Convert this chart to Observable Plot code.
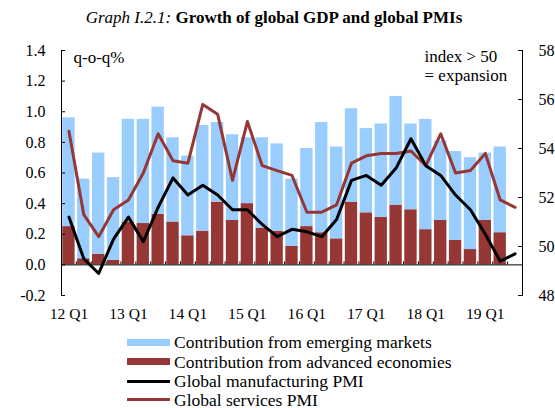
<!DOCTYPE html>
<html><head><meta charset="utf-8">
<script src="https://cdn.jsdelivr.net/npm/d3@7"></script>
<script src="https://cdn.jsdelivr.net/npm/@observablehq/plot@0.6"></script>
<style>
html,body{margin:0;padding:0;background:#fff;font-family:"Liberation Serif","Times New Roman",serif;color:#000;overflow:hidden;}
#wrap{position:relative;width:555px;height:408px;overflow:hidden;}
#title{position:absolute;left:0;top:7px;width:548px;text-align:center;font-size:17px;line-height:22px;white-space:nowrap;}
#chart{position:absolute;left:0;top:36px;width:555px;height:292px;}
#chart svg{max-width:none !important;width:555px !important;height:292px !important;}
.leg{position:absolute;left:127px;height:16px;line-height:16px;display:flex;align-items:center;font-size:17.5px;white-space:nowrap;}
.sw{width:43px;margin-right:4px;flex:none;}
</style></head><body>
<div id="wrap">
<div id="title"><i>Graph I.2.1:</i> <b>Growth of global GDP and global PMIs</b></div>
<div id="chart"></div>
<div id="legend"></div>
</div>
<script>
const quarters = ["12 Q1","12 Q2","12 Q3","12 Q4","13 Q1","13 Q2","13 Q3","13 Q4",
  "14 Q1","14 Q2","14 Q3","14 Q4","15 Q1","15 Q2","15 Q3","15 Q4",
  "16 Q1","16 Q2","16 Q3","16 Q4","17 Q1","17 Q2","17 Q3","17 Q4",
  "18 Q1","18 Q2","18 Q3","18 Q4","19 Q1","19 Q2","19 Q3"];
const xTickLabels = ["12 Q1","13 Q1","14 Q1","15 Q1","16 Q1","17 Q1","18 Q1","19 Q1"];
// GDP growth contributions (q-o-q %), 12 Q1 .. 19 Q2
const advanced = [0.25,0.04,0.07,0.03,0.28,0.27,0.33,0.28,0.19,0.22,0.41,0.29,0.40,0.24,0.22,0.12,
  0.25,0.21,0.17,0.41,0.34,0.31,0.39,0.36,0.23,0.29,0.16,0.10,0.29,0.21];
const emerging = [0.71,0.52,0.66,0.54,0.67,0.68,0.70,0.55,0.52,0.69,0.52,0.56,0.43,0.59,0.57,0.44,
  0.51,0.72,0.60,0.61,0.55,0.61,0.71,0.56,0.72,0.52,0.58,0.60,0.44,0.56];
// PMIs (index), 12 Q1 .. 19 Q3
const manufacturingPMI = [51.2,49.5,48.9,50.3,51.2,50.2,51.6,52.8,52.1,52.5,52.1,51.5,51.5,50.9,50.4,50.7,
  50.6,50.4,51.1,52.7,52.9,52.5,53.2,54.4,53.3,52.9,52.1,51.5,50.5,49.4,49.7];
const servicesPMI = [54.7,51.3,50.4,51.5,51.9,53.0,54.6,53.5,53.4,55.8,55.4,52.7,55.1,53.3,53.1,52.9,
  51.4,51.4,51.7,53.4,53.7,53.8,53.8,53.9,53.3,54.6,53.0,53.1,53.8,51.9,51.6];
const leftTicks = [-0.2,0,0.2,0.4,0.6,0.8,1.0,1.2,1.4];
const rightTicks = [48,50,52,54,56,58];

const blue = "#99CCFF", darkRed = "#953735", lineRed = "#953735";
const FONT = "Liberation Serif";
const toLeft = p => (p - 48) / 6.25 - 0.2;
const toRight = v => (v + 0.2) * 6.25 + 48;

const W = 555, H = 292, mL = 61, mR = 33, mT = 14, mB = 33;
const fw = W - mL - mR;
const step = fw / quarters.length;

const rows = [];
advanced.forEach((v, i) => rows.push({q: quarters[i], s: "adv", v}));
emerging.forEach((v, i) => rows.push({q: quarters[i], s: "em", v}));
const mfg = manufacturingPMI.map((p, i) => ({q: quarters[i], v: toLeft(p)}));
const svc = servicesPMI.map((p, i) => ({q: quarters[i], v: toLeft(p)}));

const txt = {fontFamily: FONT, fontSize: 16, fill: "#000"};

const chart = Plot.plot({
  width: W, height: H, marginLeft: mL, marginRight: mR, marginTop: mT, marginBottom: mB,
  style: {fontFamily: FONT, fontSize: "16px", color: "#000", background: "#fff", maxWidth: "none"},
  x: {domain: quarters, paddingInner: 0.17, paddingOuter: 0.085, round: false},
  y: {domain: [-0.2, 1.4]},
  color: {domain: ["em", "adv"], range: [blue, darkRed]},
  marks: [
    Plot.barY(rows, {x: "q", y: "v", fill: "s"}),
    Plot.ruleY([0], {stroke: "#000", strokeWidth: 1}),
    Plot.ruleX(quarters, {x: d => d, y1: 0, y2: 0, dx: -step / 2, insetTop: -3, stroke: "#000"}),
    Plot.line(svc, {x: "q", y: "v", stroke: lineRed, strokeWidth: 3}),
    Plot.line(mfg, {x: "q", y: "v", stroke: "#000", strokeWidth: 3}),
    Plot.frame({anchor: "left", stroke: "#000"}),
    Plot.frame({anchor: "right", stroke: "#000"}),
    Plot.ruleY(leftTicks, {y: d => d, insetRight: fw - 4, stroke: "#000"}),
    Plot.ruleY(rightTicks.map(toLeft), {y: d => d, insetLeft: fw - 4, stroke: "#000"}),
    Plot.axisY(leftTicks, {anchor: "left", tickSize: 0, tickPadding: 16, tickFormat: d => d.toFixed(1), label: null, ...txt}),
    Plot.axisY(rightTicks.map(toLeft), {anchor: "right", tickSize: 0, tickPadding: 16, tickFormat: d => String(Math.round(toRight(d))), label: null, ...txt}),
    Plot.axisX(xTickLabels, {anchor: "bottom", tickSize: 0, tickPadding: 12, tickFormat: d => d, label: null, ...txt, fontSize: 15.6}),
    Plot.text(["q-o-q%"], {text: d => d, frameAnchor: "top-left", dx: 12, dy: 7, textAnchor: "start", lineAnchor: "middle", ...txt, fontSize: 17}),
    Plot.text(["index > 50\n= expansion"], {text: d => d, frameAnchor: "top-right", dx: -98, dy: 15, textAnchor: "start", lineAnchor: "middle", lineHeight: 1.14, ...txt, fontSize: 17})
  ]
});
document.getElementById("chart").appendChild(chart);

const legendItems = [
  {label: "Contribution from emerging markets", color: blue, h: 7, y: 342},
  {label: "Contribution from advanced economies", color: darkRed, h: 7, y: 361.5},
  {label: "Global manufacturing PMI", color: "#000", h: 3, y: 381},
  {label: "Global services PMI", color: lineRed, h: 3, y: 399.5}
];
const leg = document.getElementById("legend");
legendItems.forEach(it => {
  const d = document.createElement("div");
  d.className = "leg";
  d.style.top = (it.y - 8) + "px";
  const s = document.createElement("span");
  s.className = "sw";
  s.style.height = it.h + "px";
  s.style.background = it.color;
  const t = document.createElement("span");
  t.textContent = it.label;
  d.appendChild(s); d.appendChild(t);
  leg.appendChild(d);
});
</script>
</body></html>
